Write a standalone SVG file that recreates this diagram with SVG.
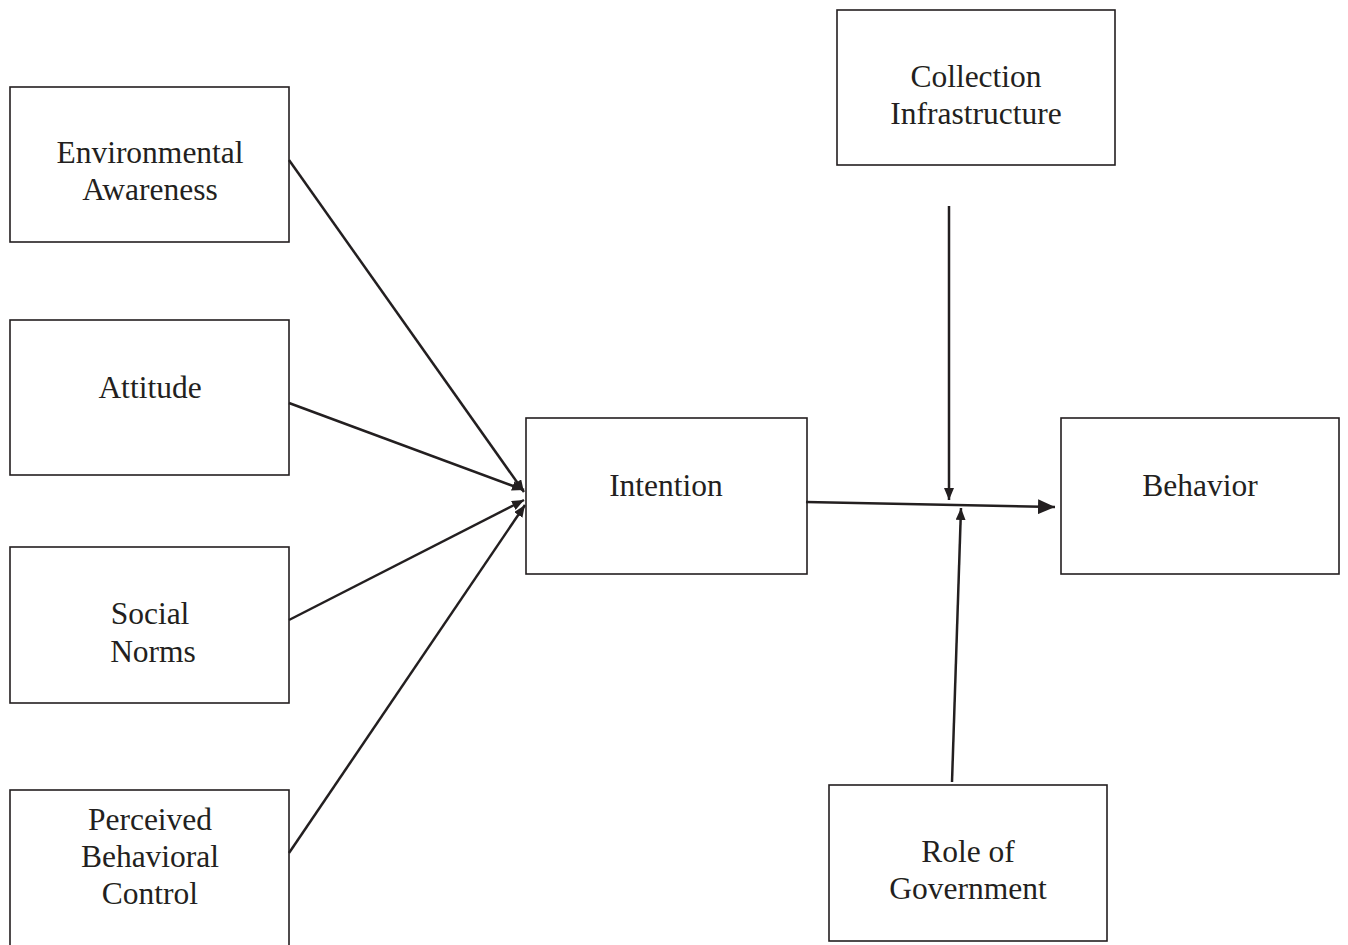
<svg xmlns="http://www.w3.org/2000/svg" width="1348" height="945" viewBox="0 0 1348 945">
  <style>
    .box { fill: #ffffff; stroke: #231f20; stroke-width: 1.6; }
    .lbl { font-family: "Liberation Serif", "Times New Roman", serif; font-size: 31.5px; fill: #231f20; text-anchor: middle; }
    .edge { stroke: #231f20; stroke-width: 2.5; fill: none; marker-end: url(#arrow); }
    .edge.big { marker-end: url(#arrow-big); }
  </style>
  <defs>
    <marker id="arrow" viewBox="0 0 12 10" refX="12" refY="5" markerWidth="12" markerHeight="10" markerUnits="userSpaceOnUse" orient="auto">
      <path d="M0,0 L12,5 L0,10 z" fill="#231f20"/>
    </marker>
    <marker id="arrow-big" viewBox="0 0 17 15" refX="17" refY="7.5" markerWidth="17" markerHeight="15" markerUnits="userSpaceOnUse" orient="auto">
      <path d="M0,0 L17,7.5 L0,15 z" fill="#231f20"/>
    </marker>
  </defs>
  <rect width="1348" height="945" fill="#ffffff"/>

  <g id="env-awareness">
    <rect class="box" x="10" y="87" width="279" height="155"/>
    <text class="lbl" x="150" y="163">Environmental</text>
    <text class="lbl" x="150" y="200">Awareness</text>
  </g>
  <g id="attitude">
    <rect class="box" x="10" y="320" width="279" height="155"/>
    <text class="lbl" x="150" y="398">Attitude</text>
  </g>
  <g id="social-norms">
    <rect class="box" x="10" y="547" width="279" height="156"/>
    <text class="lbl" x="150" y="624">Social</text>
    <text class="lbl" x="153" y="662">Norms</text>
  </g>
  <g id="pbc">
    <rect class="box" x="10" y="790" width="279" height="160"/>
    <text class="lbl" x="150" y="830">Perceived</text>
    <text class="lbl" x="150" y="867">Behavioral</text>
    <text class="lbl" x="150" y="904">Control</text>
  </g>
  <g id="intention">
    <rect class="box" x="526" y="418" width="281" height="156"/>
    <text class="lbl" x="666" y="496">Intention</text>
  </g>
  <g id="behavior">
    <rect class="box" x="1061" y="418" width="278" height="156"/>
    <text class="lbl" x="1200" y="496">Behavior</text>
  </g>
  <g id="collection-infrastructure">
    <rect class="box" x="837" y="10" width="278" height="155"/>
    <text class="lbl" x="976" y="87">Collection</text>
    <text class="lbl" x="976" y="124">Infrastructure</text>
  </g>
  <g id="role-of-government">
    <rect class="box" x="829" y="785" width="278" height="156"/>
    <text class="lbl" x="968" y="862">Role of</text>
    <text class="lbl" x="968" y="899">Government</text>
  </g>

  <g id="connectors">
    <line class="edge" x1="289" y1="160" x2="524" y2="492"/>
    <line class="edge" x1="289" y1="403" x2="524" y2="490"/>
    <line class="edge" x1="289" y1="620" x2="524" y2="500"/>
    <line class="edge" x1="289" y1="853" x2="525" y2="505"/>
    <line class="edge big" x1="806" y1="502" x2="1055" y2="507"/>
    <line class="edge" x1="949" y1="206" x2="949" y2="500"/>
    <line class="edge" x1="952" y1="782" x2="961" y2="508"/>
  </g>
</svg>
